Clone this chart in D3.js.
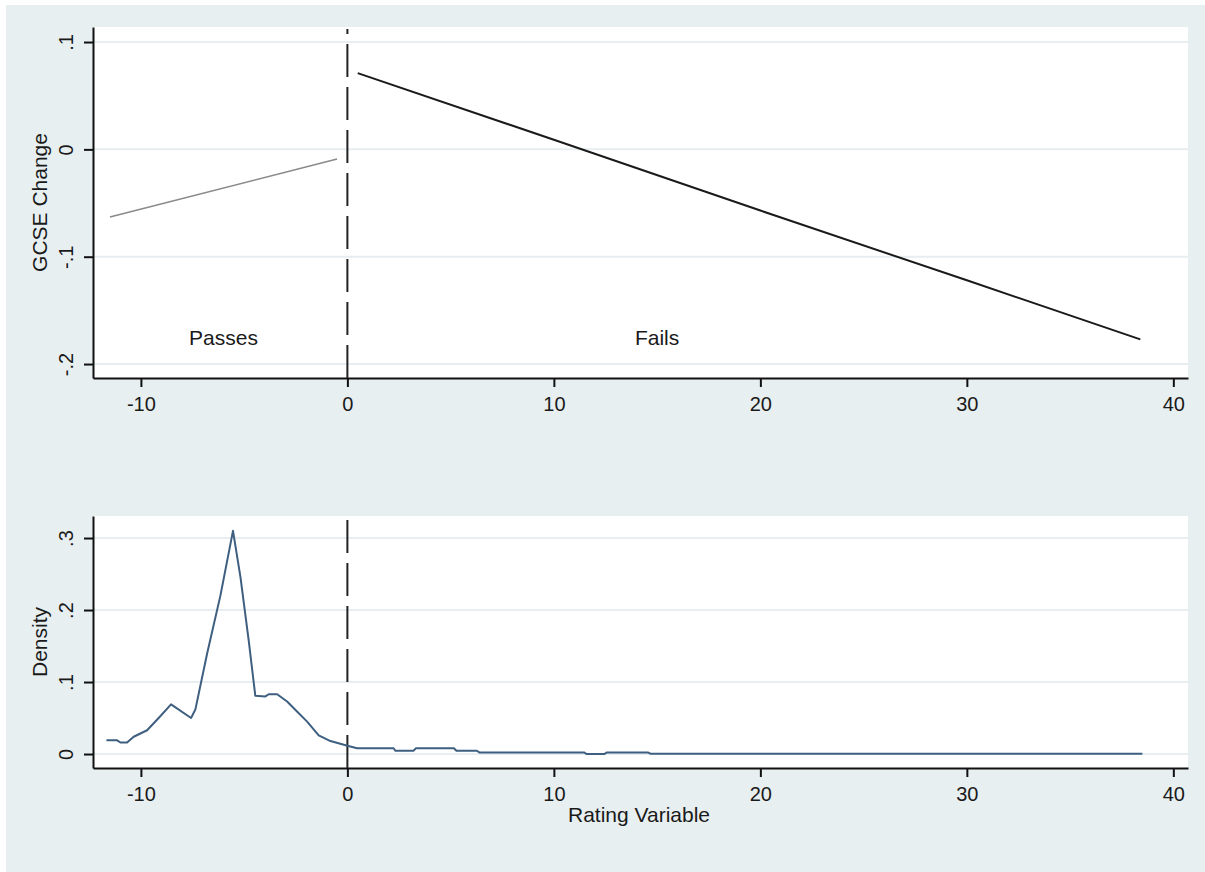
<!DOCTYPE html>
<html>
<head>
<meta charset="utf-8">
<script src="https://cdn.jsdelivr.net/npm/d3@7"></script>
<style>
  body { margin: 0; background: #fff; }
  svg text { font-family: "Liberation Sans", Arial, sans-serif; fill: #1a1a1a; }
</style>
</head>
<body>
<div id="chart"></div>
<script>
// x ticks shared by both panels
const xTicks = [-10, 0, 10, 20, 30, 40];
const xTickLabels = ["-10", "0", "10", "20", "30", "40"];

// top panel: fitted GCSE change either side of the cut-off
const gcseTicks = [0.1, 0, -0.1, -0.2];
const gcseTickLabels = [".1", "0", "-.1", "-.2"];
const passRating = [-11.5, -0.5];
const passFit = [-0.063, -0.009];
const failRating = [0.5, 10, 20, 30, 38.4];
const failFit = [0.071, 0.009, -0.057, -0.122, -0.177];
const regionLabels = ["Passes", "Fails"];
const regionX = [-6, 15];
const regionY = -0.175;

// bottom panel: density of the rating variable
const densityTicks = [0.3, 0.2, 0.1, 0];
const densityTickLabels = [".3", ".2", ".1", "0"];
const densX = [-11.67, -11.15, -10.99, -10.67, -10.35, -9.7, -9.14, -8.54, -7.57, -7.36,
  -6.79, -6.15, -5.54, -5.18, -4.78, -4.46, -3.97, -3.81, -3.40, -2.92,
  -2.44, -1.95, -1.39, -0.82, 0, 0.47, 2.24, 2.32, 3.21, 3.31,
  5.16, 5.28, 6.27, 6.39, 11.46, 11.58, 12.45, 12.57, 14.55, 14.67, 38.5];
const densY = [0.019, 0.019, 0.016, 0.016, 0.024, 0.033, 0.050, 0.069, 0.050, 0.062,
  0.140, 0.220, 0.310, 0.246, 0.158, 0.081, 0.080, 0.083, 0.083, 0.073,
  0.059, 0.045, 0.026, 0.018, 0.0115, 0.008, 0.008, 0.0046, 0.0046, 0.008,
  0.008, 0.0046, 0.0046, 0.0023, 0.0023, 0.0, 0.0, 0.0023, 0.0023, 0.0004, 0.0004];

const width = 1205, height = 872;
const bg = "#e8eff1";
const gridColor = "#e6eef1";
const axisColor = "#111";

const svg = d3.select("#chart").append("svg")
  .attr("width", width)
  .attr("height", height);

// outer graph region
svg.append("rect")
  .attr("x", 6).attr("y", 5)
  .attr("width", width - 6).attr("height", height - 5)
  .attr("fill", bg);

const x = d3.scaleLinear().domain([-12.32, 40.71]).range([93, 1188]);

function panel(yDomain, yRange, ticks, tickLabels, title) {
  const y = d3.scaleLinear().domain(yDomain).range(yRange);
  const g = svg.append("g");

  // plot region
  g.append("rect")
    .attr("x", x.range()[0]).attr("y", yRange[1])
    .attr("width", x.range()[1] - x.range()[0])
    .attr("height", yRange[0] - yRange[1])
    .attr("fill", "#fff");

  // horizontal grid
  g.selectAll(".grid")
    .data(ticks)
    .enter()
    .append("line")
    .attr("x1", x.range()[0]).attr("x2", x.range()[1])
    .attr("y1", d => y(d)).attr("y2", d => y(d))
    .attr("stroke", gridColor)
    .attr("stroke-width", 2);

  // x axis
  const xa = g.append("g")
    .attr("transform", `translate(0,${yRange[0]})`)
    .call(d3.axisBottom(x).tickValues(xTicks).tickSize(9).tickSizeOuter(0).tickPadding(10)
      .tickFormat((d, i) => xTickLabels[i]));
  xa.selectAll("text").style("font-size", "20px").attr("fill", axisColor);

  // y axis, tick labels rotated like Stata
  const ya = g.append("g")
    .attr("transform", `translate(${x.range()[0]},0)`)
    .call(d3.axisLeft(y).tickValues(ticks).tickSize(9).tickSizeOuter(0)
      .tickFormat((d, i) => tickLabels[i]));
  ya.selectAll("text")
    .attr("transform", "rotate(-90)")
    .attr("x", 0).attr("y", -20).attr("dy", 0)
    .attr("text-anchor", "middle")
    .style("font-size", "20px")
    .attr("fill", axisColor);

  [xa, ya].forEach(a => {
    a.select(".domain").attr("stroke", axisColor).attr("stroke-width", 2);
    a.selectAll(".tick line").attr("stroke", axisColor).attr("stroke-width", 2);
  });

  // y title
  g.append("text")
    .attr("transform", `translate(47,${(yRange[0] + yRange[1]) / 2}) rotate(-90)`)
    .attr("text-anchor", "middle")
    .style("font-size", "21px")
    .text(title);

  // cut-off line at zero
  g.append("line")
    .attr("x1", x(0)).attr("x2", x(0))
    .attr("y1", yRange[0]).attr("y2", yRange[1] + 2)
    .attr("stroke", "#222")
    .attr("stroke-width", 2)
    .attr("stroke-dasharray", "33,10");

  return { g, y };
}

// top panel
const topPanel = panel([-0.213, 0.114], [378, 27], gcseTicks, gcseTickLabels, "GCSE Change");

topPanel.g.append("path")
  .datum(passRating.map((r, i) => [r, passFit[i]]))
  .attr("fill", "none")
  .attr("stroke", "#8a8a8a")
  .attr("stroke-width", 1.6)
  .attr("d", d3.line().x(d => x(d[0])).y(d => topPanel.y(d[1])));

topPanel.g.append("path")
  .datum(failRating.map((r, i) => [r, failFit[i]]))
  .attr("fill", "none")
  .attr("stroke", "#1a1a1a")
  .attr("stroke-width", 2)
  .attr("d", d3.line().x(d => x(d[0])).y(d => topPanel.y(d[1])));

topPanel.g.selectAll(".region")
  .data(regionLabels)
  .enter()
  .append("text")
  .attr("x", (d, i) => x(regionX[i]))
  .attr("y", topPanel.y(regionY))
  .attr("dy", "0.35em")
  .attr("text-anchor", "middle")
  .style("font-size", "21px")
  .text(d => d);

// bottom panel
const bottomPanel = panel([-0.0194, 0.3306], [768, 516], densityTicks, densityTickLabels, "Density");

bottomPanel.g.append("path")
  .datum(densX.map((r, i) => [r, densY[i]]))
  .attr("fill", "none")
  .attr("stroke", "#3e5f80")
  .attr("stroke-width", 2)
  .attr("stroke-linejoin", "round")
  .attr("d", d3.line().x(d => x(d[0])).y(d => bottomPanel.y(d[1])));

svg.append("text")
  .attr("x", 639)
  .attr("y", 822)
  .attr("text-anchor", "middle")
  .style("font-size", "21px")
  .text("Rating Variable");
</script>
</body>
</html>
